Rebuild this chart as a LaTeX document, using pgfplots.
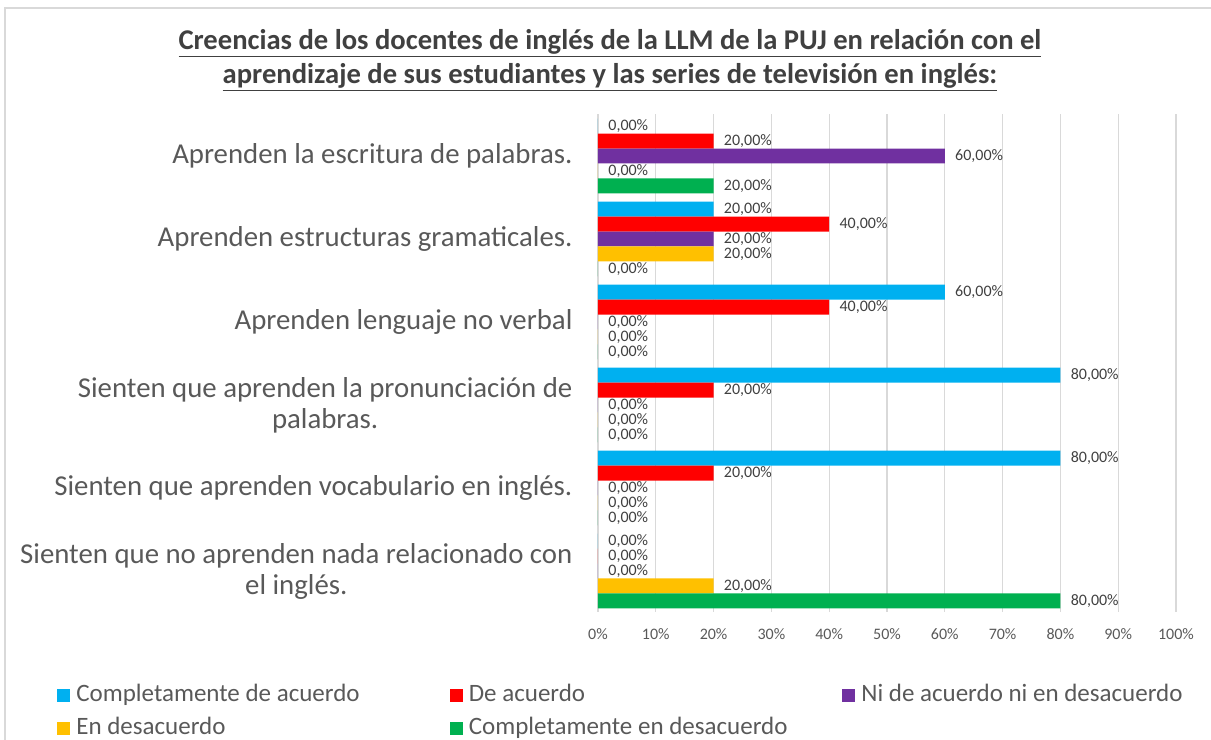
\documentclass[border=0pt]{standalone}
\usepackage{pgfplots}
\pgfplotsset{compat=1.18}
\usepackage{fontspec}
\setmainfont{Carlito}
\definecolor{cCA}{HTML}{00B0F0}
\definecolor{cDA}{HTML}{FF0000}
\definecolor{cNi}{HTML}{7030A0}
\definecolor{cED}{HTML}{FFC000}
\definecolor{cCED}{HTML}{00B050}
\definecolor{txt}{HTML}{595959}
\definecolor{lbl}{HTML}{404040}
\definecolor{grd}{HTML}{D9D9D9}
\begin{document}
\begin{tikzpicture}
\begin{axis}[
    name=ax,
    scale only axis,
    width=289pt, height=249pt,
    xbar, bar width=0.18,
    xmin=0, xmax=100,
    ymin=-0.5, ymax=5.5,
    y dir=reverse,
    axis line style={draw=none},
    tick style={draw=none},
    xtick={0,10,...,100},
    xmajorgrids, grid style={grd, line width=0.6pt},
    /pgf/number format/assume math mode=true,
    xticklabel={\pgfmathprintnumber{\tick}\%},
    xticklabel style={font=\fontsize{8}{8}\selectfont, text=txt, yshift=-4.5pt},
    ytick={0,...,5},
    yticklabels={
        {Aprenden la escritura de palabras.},
        {Aprenden estructuras gramaticales.},
        {Aprenden lenguaje no verbal},
        {Sienten que aprenden la pronunciación de\\palabras.},
        {Sienten que aprenden vocabulario en inglés.},
        {Sienten que no aprenden nada relacionado con\\el inglés.}},
    yticklabel style={font=\fontsize{14.4}{15.5}\selectfont, text=txt, align=center, xshift=-5pt},
    nodes near coords={\pgfmathprintnumber[fixed,fixed zerofill,precision=2,use comma]{\pgfplotspointmeta}\%},
    point meta=x,
    nodes near coords style={anchor=west, inner sep=0pt, xshift=5pt, font=\fontsize{8}{8}\selectfont, text=lbl},
    legend columns=3,
    legend style={at={(axis description cs:-0.936,-0.141)}, anchor=north west, draw=none, fill=none,
        inner sep=0pt, row sep=4.5pt,
        font=\fontsize{12.5}{12.5}\selectfont, text=txt,
        nodes={inner sep=0pt, text height=9pt, text depth=3pt},
        /tikz/every odd column/.style={column sep=3pt}},
    legend image code/.code={\fill[#1] (0pt,-3.25pt) rectangle (6.5pt,3.25pt);},
]
\addplot[fill=cCA, draw=none, bar shift=-0.36] coordinates {(0,0) (20,1) (60,2) (80,3) (80,4) (0,5)};
\addplot[fill=cDA, draw=none, bar shift=-0.18] coordinates {(20,0) (40,1) (40,2) (20,3) (20,4) (0,5)};
\addplot[fill=cNi, draw=none, bar shift=0] coordinates {(60,0) (20,1) (0,2) (0,3) (0,4) (0,5)};
\addplot[fill=cED, draw=none, bar shift=0.18] coordinates {(0,0) (20,1) (0,2) (0,3) (0,4) (20,5)};
\addplot[fill=cCED, draw=none, bar shift=0.36] coordinates {(20,0) (0,1) (0,2) (0,3) (0,4) (80,5)};
\addlegendentry{\makebox[186.75pt][l]{Completamente de acuerdo}}
\addlegendentry{\makebox[186.75pt][l]{De acuerdo}}
\addlegendentry{\makebox[186.75pt][l]{Ni de acuerdo ni en desacuerdo}}
\addlegendentry{\makebox[186.75pt][l]{En desacuerdo}}
\addlegendentry{\makebox[186.75pt][l]{Completamente en desacuerdo}}
\end{axis}
\node[font=\bfseries\fontsize{14.3}{17}\selectfont, text=lbl, align=center, anchor=center]
  at ([xshift=6pt, yshift=276pt]ax.south west)
  {\underline{Creencias de los docentes de inglés de la LLM de la PUJ en relación con el}\\
   \underline{aprendizaje de sus estudiantes y las series de televisión en inglés:}};
\pgfresetboundingbox
\useasboundingbox ([xshift=-299pt, yshift=-63.75pt]ax.south west) rectangle ([xshift=17.5pt, yshift=57.25pt]ax.north east);
\draw[grd, line width=0.6pt] ([xshift=-296.5pt, yshift=-63.75pt]ax.south west) -- ([xshift=-296.5pt, yshift=53.25pt]ax.north west) -- ([xshift=17.5pt, yshift=53.25pt]ax.north east);
\end{tikzpicture}
\end{document}
